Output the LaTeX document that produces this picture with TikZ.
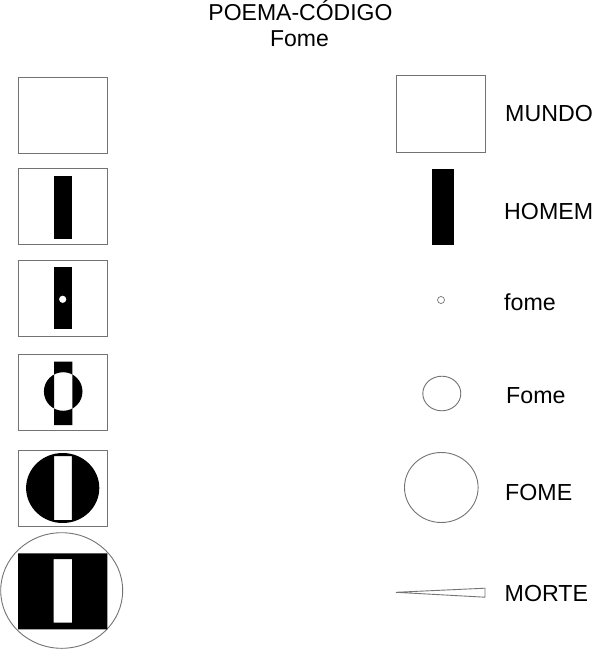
\documentclass[tikz,border=0pt]{standalone}
\usepackage{fontspec}
\setmainfont{Liberation Sans}
\begin{document}
\begin{tikzpicture}[x=1pt,y=-1pt,
  outline/.style={draw=black!55, line width=0.9pt},
  lbl/.style={anchor=base west, inner sep=0pt, font=\fontsize{23.2}{27}\selectfont},
  ttl/.style={anchor=base, inner sep=0pt, font=\fontsize{23}{27}\selectfont}]
\useasboundingbox (0,0) rectangle (594,650);
% title
\node[ttl] (t1) at (300.5,21) {POEMA-CÓDIGO};
\node[ttl] (t2) at (299.5,46.5) {Fome};
% left column
% 1 MUNDO
\draw[outline] (18,77) rectangle (107,153);
% 2 HOMEM
\draw[outline] (18,168.5) rectangle (107,244.5);
\fill[black] (53.5,176) rectangle (71.8,239.3);
% 3 fome
\draw[outline] (18,260.5) rectangle (107,336.5);
\fill[black] (53.5,266.7) rectangle (71.8,329.3);
\fill[white] (62.7,299.3) circle (3.6);
% 4 Fome
\draw[outline] (18,354) rectangle (107,430);
\fill[black, even odd rule] (54,361.7) rectangle (72.3,425) (63.2,391.5) circle (19.3);
% 5 FOME
\draw[outline] (18,450) rectangle (107,526);
\fill[black, even odd rule] (62.7,488) ellipse [x radius=36.6, y radius=35] (54,456) rectangle (71.8,520);
% 6 MORTE
\draw[outline] (61.7,590.5) ellipse [x radius=61, y radius=57.8];
\fill[black, even odd rule] (18,553.3) rectangle (107.3,629.3) (53.7,559) rectangle (72,622.7);
% right column
\draw[outline] (396,75.5) rectangle (485.3,152);
\node[lbl] (l1) at (505,121.7) {MUNDO};
\fill[black] (432,168.7) rectangle (454,245.3);
\node[lbl] (l2) at (504,219.5) {HOMEM};
\draw[outline, line width=0.7pt] (441,300) circle (3.5);
\node[lbl] (l3) at (504,310) {fome};
\draw[outline] (441.8,393.5) ellipse [x radius=19, y radius=17.3];
\node[lbl] (l4) at (506,403.3) {Fome};
\draw[outline] (441.3,487.5) ellipse [x radius=36.8, y radius=35];
\node[lbl] (l5) at (505,500) {FOME};
\draw[outline, line join=miter] (396,592.3) -- (485,588.2) -- (485,597.2) -- cycle;
\node[lbl] (l6) at (504.5,601.7) {MORTE};
\end{tikzpicture}
\end{document}
